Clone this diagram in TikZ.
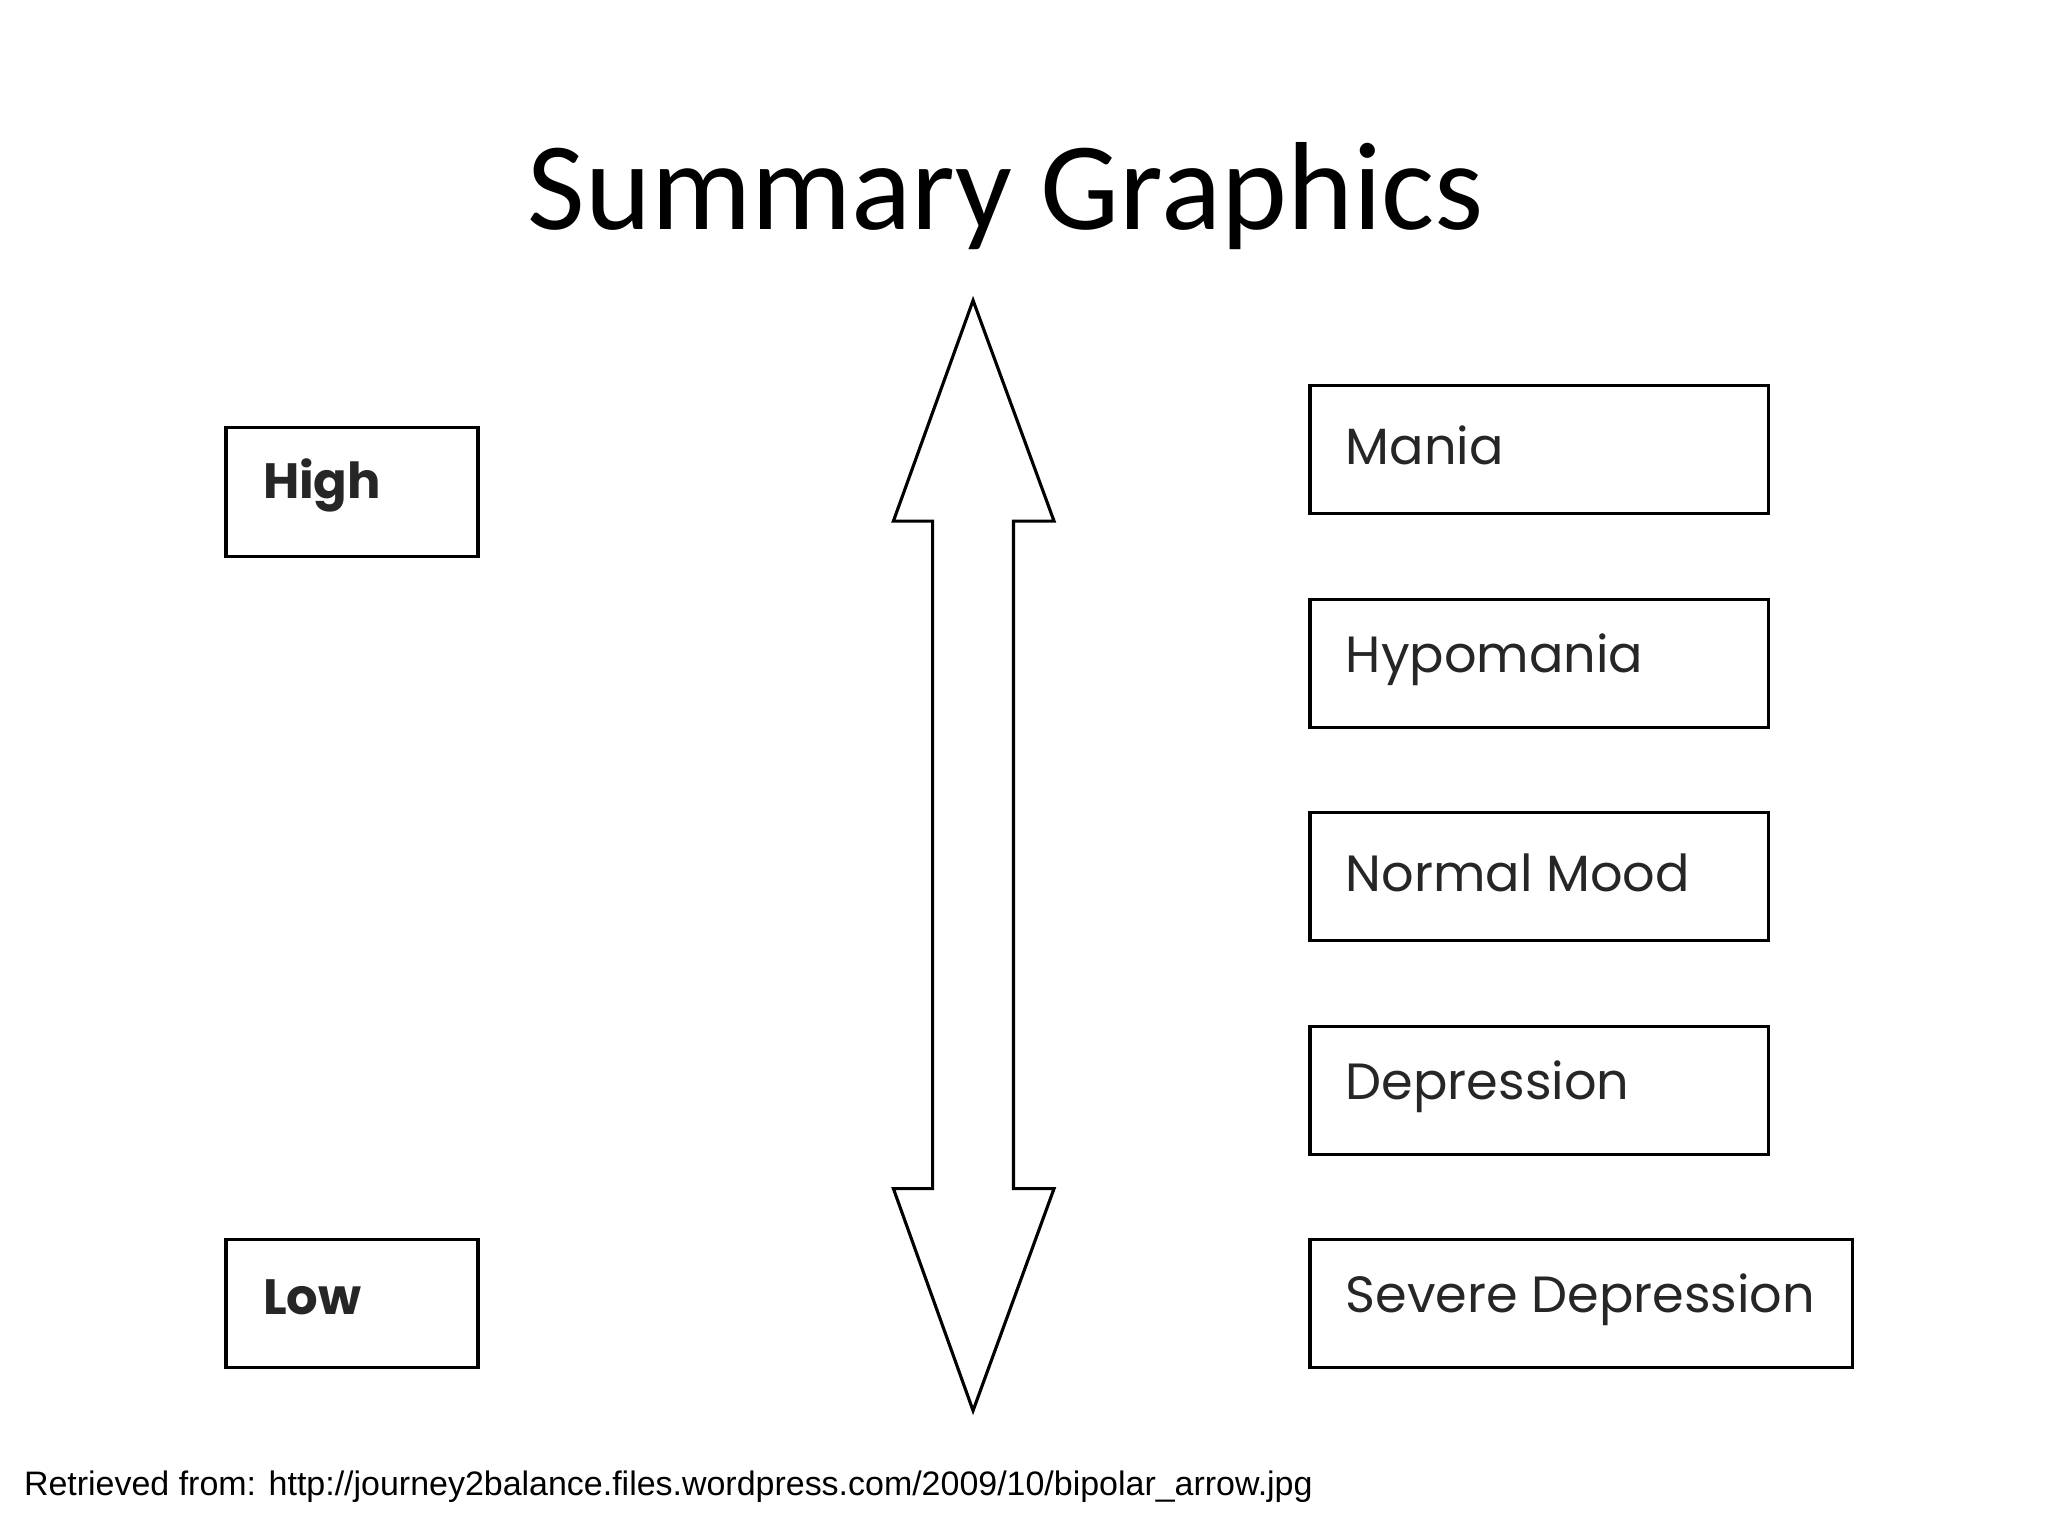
\documentclass[tikz,border=0pt]{standalone}
\usepackage{fontspec}
\setmainfont{Carlito}
\newfontfamily\boxfont{Poppins}
\newfontfamily\footfont{Liberation Sans}
\begin{document}
\begin{tikzpicture}[x=0.5pt,y=-0.5pt,
  box/.style={draw,line width=1.2pt,inner sep=0pt},
  lbl/.style={anchor=west,inner sep=0pt,font=\boxfont\fontsize{19.5}{24}\selectfont,text=black!85}]
\useasboundingbox (0,0) rectangle (1568,1176);
\node (title) at (770,150) {\fontsize{48}{54}\selectfont Summary Graphics};
\draw[box] (173,327) rectangle (366,426);
\node[lbl,font=\boxfont\bfseries\fontsize{19}{24}\selectfont] (high) at (201,372) {High};
\draw[box] (173,949) rectangle (366,1047);
\node[lbl,font=\boxfont\bfseries\fontsize{19}{24}\selectfont] (low) at (201,993) {Low};
\foreach \n/\t/\y in {m/Mania/295,h/Hypomania/459,n/Normal Mood/622,d/Depression/786}{
  \draw[box] (1003,\y) rectangle (1354,\y+98);
  \node[lbl] (\n) at (1030,\y+46) {\t};
}
\draw[box] (1003,949) rectangle (1418,1047);
\node[lbl] (s) at (1030,995) {Severe Depression};
\draw[line width=1.2pt,line join=miter] (745,230) -- (807,399) -- (776,399) -- (776,910) -- (807,910)
  -- (745,1080) -- (684,910) -- (714,910) -- (714,399) -- (684,399) -- cycle;
\node[anchor=west,inner sep=0pt] (foot) at (18,1138) {\footfont\fontsize{13}{15}\selectfont Retrieved from: http://journey2balance.files.wordpress.com/2009/10/bipolar\_arrow.jpg};
\end{tikzpicture}
\end{document}
